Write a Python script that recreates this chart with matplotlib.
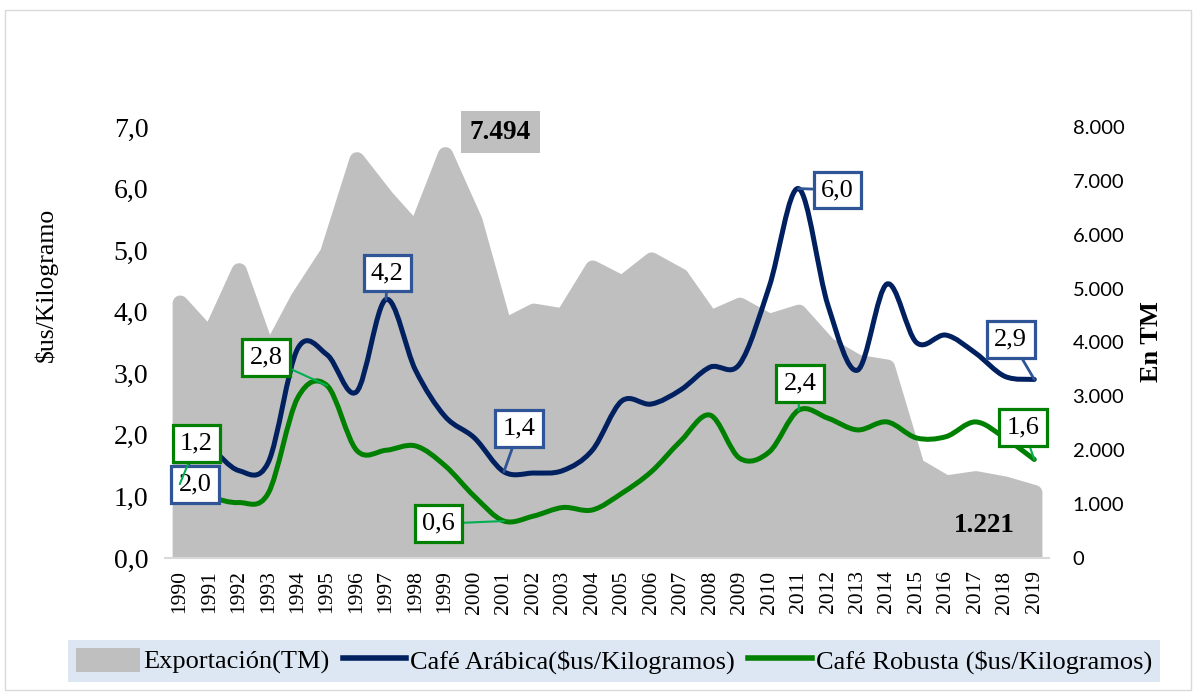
import numpy as np
import matplotlib.pyplot as plt
from matplotlib.path import Path
from matplotlib.patches import PathPatch, Patch, Rectangle
from matplotlib.lines import Line2D
from matplotlib.ticker import FuncFormatter, MultipleLocator

plt.rcParams["font.family"] = ["Liberation Serif", "DejaVu Serif"]

# ---- data ----
years = list(range(1990, 2020))

exportacion_tm = [4740, 4140, 5340, 3800, 4830, 5670, 7400, 6700, 6090, 7494,
                  6270, 4310, 4590, 4500, 5390, 5110, 5540, 5240, 4460, 4700,
                  4400, 4570, 3960, 3640, 3550, 1720, 1400, 1480, 1380, 1221]

arabica = [2.0, 1.8, 1.42, 1.55, 3.4, 3.3, 2.7, 4.2, 3.05, 2.3,
           1.95, 1.4, 1.38, 1.42, 1.75, 2.55, 2.5, 2.73, 3.1, 3.15,
           4.4, 6.0, 4.1, 3.05, 4.45, 3.5, 3.62, 3.33, 2.95, 2.9]

robusta = [1.2, 1.0, 0.9, 1.05, 2.6, 2.8, 1.75, 1.75, 1.82, 1.5,
           1.0, 0.6, 0.68, 0.82, 0.78, 1.05, 1.4, 1.9, 2.32, 1.62,
           1.72, 2.4, 2.27, 2.08, 2.21, 1.95, 1.97, 2.21, 1.95, 1.6]

# labelled years and label offsets (points) for the callout boxes
arabica_labels = [(1990, 11, -36), (1997, 1, 19), (2001, 11, 31), (2011, 28, -1), (2019, -17, 29)]
robusta_labels = [(1990, 12, 29), (1995, -44, 20), (2001, -47, -2), (2011, 1, 19), (2019, -8, 23)]

GRAY = "#bfbfbf"
NAVY = "#002060"
GREEN = "#008000"
BLUE_BOX = "#2f5597"
LEADER_GREEN = "#00b050"


def smooth_path(x, y):
    """Excel-like smoothed line: cubic Bezier through every point."""
    x = np.asarray(x, float)
    y = np.asarray(y, float)
    n = len(x)
    verts = [(x[0], y[0])]
    codes = [Path.MOVETO]
    for i in range(n - 1):
        a = max(i - 1, 0)
        b = min(i + 2, n - 1)
        c1 = (x[i] + (x[i + 1] - x[a]) / 6.0, y[i] + (y[i + 1] - y[a]) / 6.0)
        c2 = (x[i + 1] - (x[b] - x[i]) / 6.0, y[i + 1] - (y[b] - y[i]) / 6.0)
        verts += [c1, c2, (x[i + 1], y[i + 1])]
        codes += [Path.CURVE4] * 3
    return Path(verts, codes)


fig = plt.figure(figsize=(11.96, 6.94), dpi=100)
ax = fig.add_axes([0.138, 0.196, 0.7391, 0.621])
ax2 = ax.twinx()
ax.set_zorder(ax2.get_zorder() + 1)
ax.patch.set_visible(False)

# area: exports on the right axis
ax2.fill_between(years, exportacion_tm, 0, facecolor=GRAY, edgecolor=GRAY,
                 linewidth=11, joinstyle="round")
ax2.set_ylim(0, 8000)
ax2.yaxis.set_major_locator(MultipleLocator(1000))
ax2.yaxis.set_major_formatter(FuncFormatter(
    lambda v, p: "0" if v == 0 else f"{int(v):,}".replace(",", ".")))
ax2.tick_params(axis="y", length=0, pad=17, labelsize=14.5, labelfontfamily="Lato")

# smoothed price lines on the left axis
ax.add_patch(PathPatch(smooth_path(years, arabica), fill=False, edgecolor=NAVY,
                       lw=3.6, capstyle="round", joinstyle="round"))
ax.add_patch(PathPatch(smooth_path(years, robusta), fill=False, edgecolor=GREEN,
                       lw=3.6, capstyle="round", joinstyle="round"))
ax.set_ylim(0, 7)
ax.set_xlim(years[0] - 0.5, years[-1] + 0.5)
ax.yaxis.set_major_locator(MultipleLocator(1))
ax.yaxis.set_major_formatter(FuncFormatter(lambda v, p: f"{v:.1f}".replace(".", ",")))
ax.tick_params(axis="y", length=0, pad=12, labelsize=20)
ax.set_xticks(years)
ax.set_xticklabels([str(y) for y in years], rotation=90, fontsize=15.5)
ax.tick_params(axis="x", length=0, pad=9)

for a in (ax, ax2):
    for side in ("top", "left", "right"):
        a.spines[side].set_visible(False)
    a.spines["bottom"].set_color("#d9d9d9")
    a.spines["bottom"].set_linewidth(1.5)
ax2.spines["bottom"].set_visible(False)


def callout(year, value, dx, dy, edge, leader, lw_leader, z):
    ax.annotate(f"{value:.1f}".replace(".", ","), xy=(year, value),
                xytext=(dx, dy), textcoords="offset points",
                ha="center", va="center", fontsize=19, zorder=z,
                annotation_clip=False,
                bbox=dict(boxstyle="square,pad=0.28", fc="white", ec=edge, lw=2.3),
                arrowprops=dict(arrowstyle="-", color=leader, lw=lw_leader,
                                shrinkA=0, shrinkB=0))


for yr, dx, dy in arabica_labels:
    callout(yr, arabica[years.index(yr)], dx, dy, BLUE_BOX, BLUE_BOX, 2.0, 5)
for yr, dx, dy in robusta_labels:
    callout(yr, robusta[years.index(yr)], dx, dy, GREEN, LEADER_GREEN, 1.5, 6)

# export max / last value labels
i_max = int(np.argmax(exportacion_tm))
ax2.annotate(f"{exportacion_tm[i_max]:,}".replace(",", "."),
             xy=(years[i_max], exportacion_tm[i_max]), xytext=(40, 16),
             textcoords="offset points", ha="center", va="center",
             fontsize=19.5, fontweight="bold",
             bbox=dict(boxstyle="square,pad=0.33", fc=GRAY, ec="none"))
ax2.annotate(f"{exportacion_tm[-1]:,}".replace(",", "."),
             xy=(years[-1], exportacion_tm[-1]), xytext=(-36, -24),
             textcoords="offset points", ha="center", va="center",
             fontsize=19.5, fontweight="bold")

# axis titles
fig.text(46 / 1196, 1 - 285 / 694, "$us/Kilogramo", rotation=90,
         ha="center", va="center", fontsize=18.5)
fig.text(1152 / 1196, 1 - 342 / 694, "En TM", rotation=90,
         ha="center", va="center", fontsize=19, fontweight="bold")

# legend
handles = [Patch(facecolor=GRAY, edgecolor="none"),
           Line2D([], [], color=NAVY, lw=4),
           Line2D([], [], color=GREEN, lw=4)]
labels = ["Exportación(TM)", "Café Arábica($us/Kilogramos)", "Café Robusta ($us/Kilogramos)"]
leg = fig.legend(handles, labels, loc="center", bbox_to_anchor=(0.5134, 0.0475),
                 ncol=3, frameon=True, fancybox=False, facecolor="#dde7f3",
                 edgecolor="none", framealpha=1, fontsize=19,
                 handlelength=2.4, handleheight=1.0, handletextpad=0.15,
                 columnspacing=0.5, borderpad=0.3)

# outer chart border
fig.patches.append(Rectangle((0.004, 0.006), 0.992, 0.979, transform=fig.transFigure,
                             fill=False, edgecolor="#d9d9d9", lw=1))

fig.savefig("out.png", dpi=100)
